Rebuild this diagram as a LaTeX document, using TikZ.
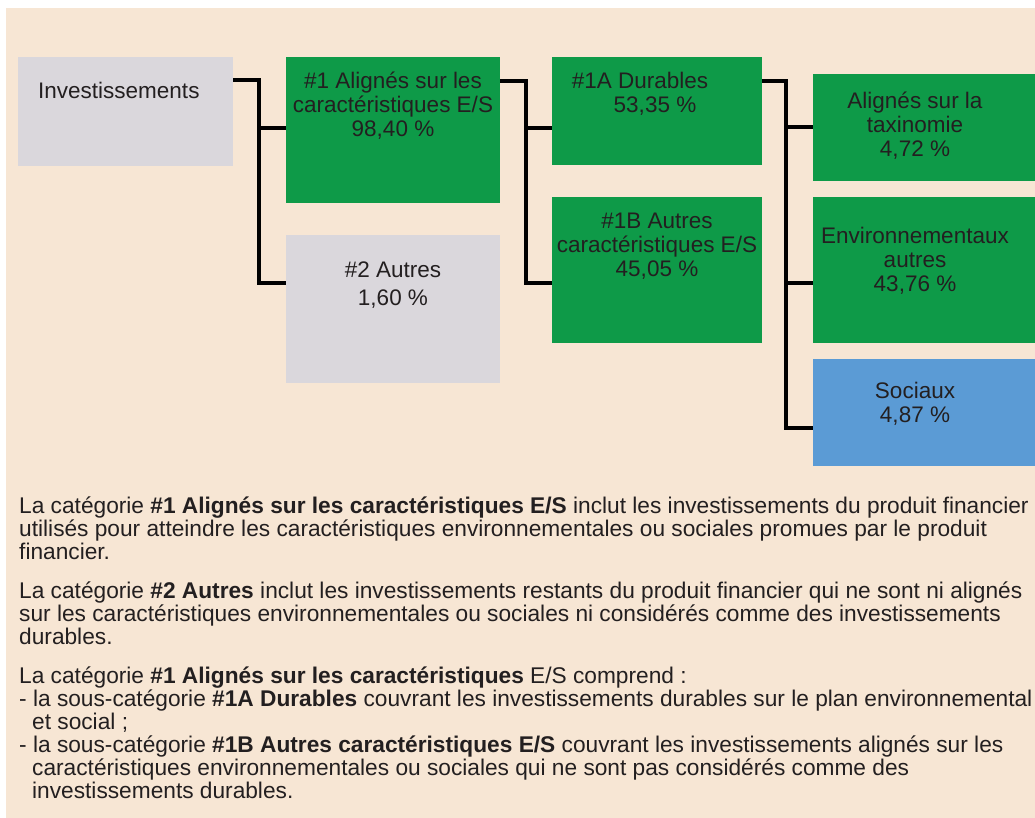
\documentclass[tikz,border=0pt]{standalone}
\usepackage{fontspec}
\setmainfont{Liberation Sans}
\usetikzlibrary{positioning}

\definecolor{bgbeige}{RGB}{247,230,212}
\definecolor{boxgreen}{RGB}{14,154,72}
\definecolor{boxgrey}{RGB}{218,215,220}
\definecolor{boxblue}{RGB}{91,155,213}
\definecolor{inkgrey}{RGB}{35,31,32}

\tikzset{
  box/.style={draw=none, anchor=north west, inner sep=0pt, outer sep=0pt},
  greenbox/.style={box, fill=boxgreen},
  greybox/.style={box, fill=boxgrey},
  bluebox/.style={box, fill=boxblue},
  lbl/.style={anchor=north, inner sep=0pt, align=center, text=inkgrey,
    font=\fontsize{22.5}{24}\selectfont},
  link/.style={line width=4pt, black, line join=miter}
}

\begin{document}
\begin{tikzpicture}[x=1pt,y=-1pt]
    \useasboundingbox (0,0) rectangle (1035,818);
    \fill[bgbeige] (6,8) rectangle (1035,818);

    % boxes
    \node[greybox, minimum width=215pt, minimum height=109pt] (inv) at (18,57) {};
    \node[greenbox, minimum width=214pt, minimum height=146pt] (al) at (286,57) {};
    \node[greybox, minimum width=214pt, minimum height=148pt] (oth) at (286,235) {};
    \node[greenbox, minimum width=210pt, minimum height=108pt] (dur) at (552,57) {};
    \node[greenbox, minimum width=210pt, minimum height=146pt] (aut) at (552,197) {};
    \node[greenbox, minimum width=222pt, minimum height=107pt] (tax) at (813,74) {};
    \node[greenbox, minimum width=222pt, minimum height=146pt] (env) at (813,197) {};
    \node[bluebox, minimum width=222pt, minimum height=107pt] (soc) at (813,359) {};

    \node[lbl] (invt) [below right=25pt and 20pt of inv.north west] {Investissements};
    \node[lbl] (alt) [below=15pt of al.north] {\#1 Alignés sur les\\caractéristiques E/S\\98,40~\%};
    \node[lbl] (otht) [below=27pt of oth.north] {\#2 Autres\\[4pt]1,60~\%};
    \node[lbl] (durt) [below=15pt of dur.north, xshift=-17pt] {\#1A Durables\\\hspace*{30pt}53,35~\%};
    \node[lbl] (autt) [below=16pt of aut.north] {\#1B Autres\\caractéristiques E/S\\45,05~\%};
    \node[lbl] (taxt) [below=18pt of tax.north, xshift=-9pt] {Alignés sur la\\taxinomie\\4,72~\%};
    \node[lbl] (envt) [below=30pt of env.north, xshift=-9pt] {Environnementaux\\autres\\43,76~\%};
    \node[lbl] (soct) [below=23pt of soc.north, xshift=-9pt] {Sociaux\\4,87~\%};

    % tree lines
    \coordinate (j1) at (259,80);
    \coordinate (j2) at (526,81);
    \coordinate (j3) at (786,81);
    \draw[link] (inv.east |- j1) -- (j1) |- ([yshift=2pt]al.west);
    \draw[link] (j1) |- ([yshift=26pt]oth.west);
    \draw[link] (al.east |- j2) -- (j2) |- ([yshift=-17pt]dur.west);
    \draw[link] (j2) |- ([yshift=-13pt]aut.west);
    \draw[link] (dur.east |- j3) -- (j3) |- (tax.west);
    \draw[link] (j3) |- ([yshift=-13pt]env.west);
    \draw[link] (j3) |- ([yshift=-15pt]soc.west);

    \node[anchor=north west, inner sep=0pt, align=left, text=inkgrey,
      font=\fontsize{22.7}{23}\selectfont] (notes) at (19,497) {%
      La catégorie \textbf{\#1 Alignés sur les caractéristiques E/S} inclut les investissements du produit financier\\
      utilisés pour atteindre les caractéristiques environnementales ou sociales promues par le produit\\
      financier.\\[16pt]
      La catégorie \textbf{\#2 Autres} inclut les investissements restants du produit financier qui ne sont ni alignés\\
      sur les caractéristiques environnementales ou sociales ni considérés comme des investissements\\
      durables.\\[16pt]
      La catégorie \textbf{\#1 Alignés sur les caractéristiques} E/S comprend :\\
      - la sous-catégorie \textbf{\#1A Durables} couvrant les investissements durables sur le plan environnemental\\
      \hspace*{13pt}et social ;\\
      - la sous-catégorie \textbf{\#1B Autres caractéristiques E/S} couvrant les investissements alignés sur les\\
      \hspace*{13pt}caractéristiques environnementales ou sociales qui ne sont pas considérés comme des\\
      \hspace*{13pt}investissements durables.};
\end{tikzpicture}
\end{document}
